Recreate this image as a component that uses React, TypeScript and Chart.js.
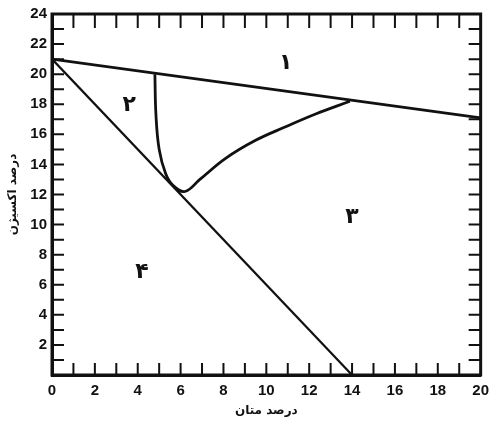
import React, { useEffect, useRef } from "react";
import { Chart, registerables } from "chart.js";

Chart.register(...registerables);

// ---- data ----
const xTickLabels = [0, 2, 4, 6, 8, 10, 12, 14, 16, 18, 20];
const yTickLabels = [2, 4, 6, 8, 10, 12, 14, 16, 18, 20, 22, 24];

const upperLineX = [0, 20];
const upperLineY = [21, 17.1];

const lowerLineX = [0, 14];
const lowerLineY = [21, 0];

const curveX = [4.8, 4.85, 5.0, 5.3, 5.65, 6.2, 6.9, 8.1, 9.5, 10.9, 12.3, 13.9];
const curveY = [20.0, 17.3, 15.0, 13.4, 12.6, 12.2, 13.0, 14.4, 15.6, 16.5, 17.35, 18.2];

const regionLabels = ["۱", "۲", "۳", "۴"];
const regionX = [10.9, 3.6, 14.0, 4.2];
const regionY = [20.7, 17.9, 10.5, 6.8];

const xTitle = "درصد متان";
const yTitle = "درصد اکسیژن";

const toPoints = (xs: number[], ys: number[]) => xs.map((x, i) => ({ x, y: ys[i] }));

const framePlugin = {
  id: "frameAndTicks",
  afterDatasetsDraw(chart: any) {
    const { ctx, chartArea, scales } = chart;
    const xs = scales.x;
    const ys = scales.y;
    const len = 12;
    ctx.save();
    ctx.strokeStyle = "#111";
    ctx.lineWidth = 2;
    for (let v = 1; v < 20; v++) {
      const px = xs.getPixelForValue(v);
      ctx.beginPath();
      ctx.moveTo(px, chartArea.bottom);
      ctx.lineTo(px, chartArea.bottom - len);
      ctx.moveTo(px, chartArea.top);
      ctx.lineTo(px, chartArea.top + len + 2);
      ctx.stroke();
    }
    for (let v = 1; v < 24; v++) {
      const py = ys.getPixelForValue(v);
      ctx.beginPath();
      ctx.moveTo(chartArea.left, py);
      ctx.lineTo(chartArea.left + len, py);
      ctx.moveTo(chartArea.right, py);
      ctx.lineTo(chartArea.right - len, py);
      ctx.stroke();
    }
    ctx.lineWidth = 3;
    ctx.strokeRect(chartArea.left, chartArea.top, chartArea.right - chartArea.left, chartArea.bottom - chartArea.top);
    // region labels
    ctx.fillStyle = "#111";
    ctx.font = "bold 22px 'DejaVu Sans'";
    ctx.textAlign = "center";
    ctx.textBaseline = "middle";
    regionLabels.forEach((t, i) => {
      ctx.fillText(t, xs.getPixelForValue(regionX[i]), ys.getPixelForValue(regionY[i]));
    });
    ctx.restore();
  },
};

export default function App() {
  const ref = useRef<HTMLCanvasElement | null>(null);
  useEffect(() => {
    if (!ref.current) return;
    const lineStyle = {
      showLine: true,
      pointRadius: 0,
      borderColor: "#111",
      backgroundColor: "#111",
      fill: false,
    };
    const chart = new Chart(ref.current, {
      type: "scatter",
      data: {
        datasets: [
          { ...lineStyle, data: toPoints(upperLineX, upperLineY), borderWidth: 2.8 },
          { ...lineStyle, data: toPoints(lowerLineX, lowerLineY), borderWidth: 2.2 },
          { ...lineStyle, data: toPoints(curveX, curveY), borderWidth: 2.8, tension: 0.4 },
        ],
      },
      options: {
        animation: false,
        responsive: false,
        maintainAspectRatio: false,
        layout: { padding: { left: 0, right: 6, top: 14, bottom: 0 } },
        plugins: { legend: { display: false }, tooltip: { enabled: false } },
        scales: {
          x: {
            type: "linear",
            min: 0,
            max: 20,
            afterFit: (s: any) => {
              s.height = 50;
            },
            grid: { drawOnChartArea: false, drawTicks: false },
            border: { display: true, color: "#111", width: 3 },
            ticks: {
              stepSize: 1,
              autoSkip: false,
              maxRotation: 0,
              padding: 7,
              color: "#111",
              font: { family: "'Liberation Sans Narrow', 'Liberation Sans'", size: 15, weight: "bold" },
              callback: (v: any) => (xTickLabels.includes(Number(v)) ? String(v) : ""),
            },
            title: {
              display: true,
              text: xTitle,
              color: "#111",
              font: { family: "'DejaVu Sans'", size: 12, weight: "bold" },
              padding: { top: 0, bottom: 7 },
            },
          },
          y: {
            type: "linear",
            min: 0,
            max: 24,
            afterFit: (s: any) => {
              s.width = 52;
            },
            grid: { drawOnChartArea: false, drawTicks: false },
            border: { display: true, color: "#111", width: 3 },
            ticks: {
              stepSize: 1,
              autoSkip: false,
              padding: 5,
              color: "#111",
              font: { family: "'Liberation Sans Narrow', 'Liberation Sans'", size: 15, weight: "bold" },
              callback: (v: any) => (yTickLabels.includes(Number(v)) ? String(v) : ""),
            },
            title: {
              display: true,
              text: yTitle,
              color: "#111",
              font: { family: "'DejaVu Sans'", size: 12, weight: "bold" },
              padding: { top: 6, bottom: 0 },
            },
          },
        },
      },
      plugins: [framePlugin],
    } as any);
    return () => chart.destroy();
  }, []);
  return (
    <div style={{ position: "absolute", left: 0, top: 0, width: 496, height: 425, background: "#fff" }}>
      <canvas ref={ref} width={496} height={425} style={{ width: 496, height: 425 }} />
    </div>
  );
}
